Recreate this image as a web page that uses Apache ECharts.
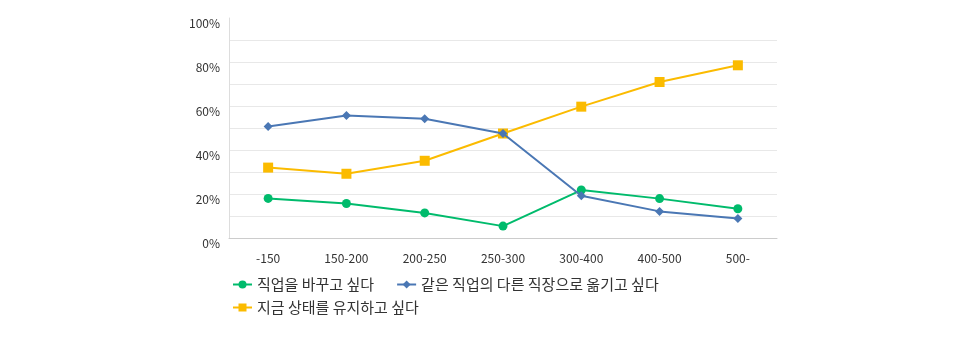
<!DOCTYPE html>
<html>
<head>
<meta charset="utf-8">
<script src="https://cdn.jsdelivr.net/npm/echarts@6/dist/echarts.min.js"></script>
<style>
  html, body { margin: 0; padding: 0; background: #fff; }
  #chart { width: 970px; height: 340px; }
</style>
</head>
<body>
<div id="chart"></div>
<script>
// Income bands (x axis categories)
const categories = ['-150', '150-200', '200-250', '250-300', '300-400', '400-500', '500-'];

// Series names
const seriesNames = ['직업을 바꾸고 싶다', '같은 직업의 다른 직장으로 옮기고 싶다', '지금 상태를 유지하고 싶다'];

// Share of respondents (%)
const changeJob = [18.0, 15.7, 11.4, 5.4, 21.8, 17.9, 13.3];
const moveWorkplace = [50.7, 55.7, 54.2, 47.5, 19.2, 12.1, 8.9];
const stayCurrent = [32.0, 29.2, 35.1, 47.5, 59.7, 70.9, 78.5];

// Y axis range and labelled ticks
const yMin = 0, yMax = 100, yStep = 10, yLabelStep = 20;

const colors = ['#00bb6c', '#4a77b4', '#fbbb00'];
const font = '"Noto Sans CJK KR", "Noto Sans", sans-serif';

// Split lines every 10%, the topmost one left out
const splitCount = (yMax - yMin) / yStep + 1;
const splitColors = [];
for (let i = 0; i < splitCount; i++) splitColors.push(i === splitCount - 1 ? 'rgba(0,0,0,0)' : '#e8e8e8');

const legendText = { fontSize: 15, lineHeight: 15, color: '#333', fontFamily: font };

const chart = echarts.init(document.getElementById('chart'), null, { renderer: 'canvas' });
chart.setOption({
  animation: false,
  color: colors,
  textStyle: { fontFamily: font },
  grid: { left: 229, right: 193, top: 18, bottom: 102, containLabel: false },
  legend: [
    {
      left: 227, top: 272, orient: 'horizontal',
      itemWidth: 19, itemHeight: 10, itemGap: 22,
      textStyle: legendText,
      data: [seriesNames[0], seriesNames[1]]
    },
    {
      left: 227, top: 295, orient: 'horizontal',
      itemWidth: 19, itemHeight: 10, itemGap: 22,
      textStyle: legendText,
      data: [seriesNames[2]]
    }
  ],
  xAxis: {
    type: 'category',
    data: categories,
    boundaryGap: true,
    axisLine: { lineStyle: { color: '#cccccc', width: 1 } },
    axisTick: { show: false },
    axisLabel: { color: '#333', fontSize: 12, margin: 14, fontFamily: font }
  },
  yAxis: {
    type: 'value',
    min: yMin,
    max: yMax,
    interval: yStep,
    axisLine: { show: true, lineStyle: { color: '#dddddd', width: 1 } },
    axisTick: { show: false },
    splitLine: { show: true, lineStyle: { color: splitColors, width: 1 } },
    axisLabel: {
      color: '#333',
      fontSize: 12,
      margin: 9,
      verticalAlign: 'top',
      lineHeight: 11,
      fontFamily: font,
      formatter: v => (v % yLabelStep === 0 ? v + '%' : '')
    }
  },
  series: [
    {
      name: seriesNames[0], type: 'line', data: changeJob,
      symbol: 'circle', symbolSize: 9,
      lineStyle: { width: 2 }, z: 3
    },
    {
      name: seriesNames[1], type: 'line', data: moveWorkplace,
      symbol: 'diamond', symbolSize: 9,
      lineStyle: { width: 2 }, z: 4
    },
    {
      name: seriesNames[2], type: 'line', data: stayCurrent,
      symbol: 'rect', symbolSize: 10,
      lineStyle: { width: 2 }, z: 2
    }
  ]
});
</script>
</body>
</html>
